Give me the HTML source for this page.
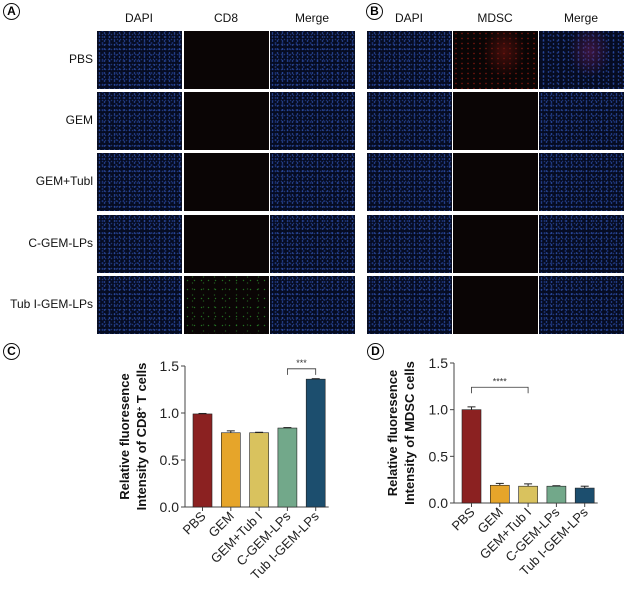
<!DOCTYPE html>
<html><head><meta charset="utf-8">
<style>
body{margin:0;width:626px;height:592px;background:#fff;font-family:"Liberation Sans",Arial,sans-serif;position:relative;overflow:hidden}
.t{position:absolute;font-size:12px;color:#111}
.tile{position:absolute;width:85px;height:58px}
.dapi{background-color:#060c22;background-image:radial-gradient(circle,rgba(45,80,170,.9) 0.6px,transparent 1px),radial-gradient(circle,rgba(30,55,130,.8) 0.7px,transparent 1.2px),radial-gradient(circle,rgba(40,70,150,.7) 0.5px,transparent 1px);background-size:5px 4px,7px 6px,3px 5px;background-position:0 0,2px 3px,1px 1px}
.dark{background:#0a0505}
.lab{position:absolute;width:17px;height:17px;border:1.3px solid #111;border-radius:50%;font-weight:bold;font-size:12px;text-align:center;box-sizing:border-box;line-height:15px}
</style></head><body>
<div class="lab" style="left:3px;top:3px">A</div>
<div class="lab" style="left:366px;top:3px">B</div>
<div class="lab" style="left:3px;top:343px">C</div>
<div class="lab" style="left:367px;top:343px">D</div>
<div id="grid"></div>
<svg id="charts" width="626" height="592" style="position:absolute;left:0;top:0" font-family="Liberation Sans, Arial, sans-serif"></svg>
<script>
const rowsA=["PBS","GEM","GEM+Tubl","C-GEM-LPs","Tub I-GEM-LPs"];
const colsA=["DAPI","CD8","Merge"];
const colsB=["DAPI","MDSC","Merge"];
const colXA=[97,184,270], colXB=[367,453,539], rowY=[31,92,153,215,276];
const g=document.getElementById('grid');
function txt(x,y,s,align,name){const d=document.createElement('div');d.className='t';d.textContent=s;d.style.top=y+'px';
 if(align==='c'){d.style.left=(x-50)+'px';d.style.width='100px';d.style.textAlign='center';}else{d.style.right=(626-x)+'px';}
 
 
 g.appendChild(d);}
colsA.forEach((c,i)=>txt(colXA[i]+42,11,c,'c','col-header-a-'+c.toLowerCase()));
colsB.forEach((c,i)=>txt(colXB[i]+42,11,c,'c','col-header-b-'+c.toLowerCase()));
rowsA.forEach((r,j)=>txt(93,rowY[j]+21,r,'r','row-label'));
function tile(x,y,cls,name,extra){const d=document.createElement('div');d.className='tile '+cls;d.style.left=x+'px';d.style.top=y+'px';if(extra)d.style.cssText+=extra;
 
 
 g.appendChild(d);}
rowY.forEach((y,j)=>{
 tile(colXA[0],y,'dapi','dapi-image-a');
 tile(colXA[1],y,'dark','cd8-image',j==4?'background-image:radial-gradient(circle,rgba(40,140,40,.8) 0.5px,transparent 0.9px),radial-gradient(circle,rgba(40,120,40,.7) 0.5px,transparent 0.9px);background-size:7px 9px,11px 6px;background-position:0 0,3px 4px':'');
 tile(colXA[2],y,'dapi','merge-image-a');
 tile(colXB[0],y,'dapi','dapi-image-b');
 tile(colXB[1],y,'dark','mdsc-image',j==0?'background-image:radial-gradient(ellipse 25% 45% at 60% 35%,rgba(110,20,15,.6),transparent),radial-gradient(circle,rgba(160,30,20,.7) 0.6px,transparent 1px);background-size:auto,6px 5px':'');
 tile(colXB[2],y,'dapi','merge-image-b',j==0?'background-image:radial-gradient(ellipse 25% 45% at 60% 35%,rgba(110,30,90,.5),transparent),radial-gradient(circle,rgba(45,80,170,.9) 0.6px,transparent 1px),radial-gradient(circle,rgba(30,55,130,.8) 0.7px,transparent 1.2px);background-size:auto,5px 4px,7px 6px':'');
});

const cats=["PBS","GEM","GEM+Tub I","C-GEM-LPs","Tub I-GEM-LPs"];
const colors=["#8b2121","#e6a52a","#d9c25e","#72a88a","#1c4e6e"];
const cdValues=[0.99,0.79,0.79,0.84,1.36];
const cdErr=[0.005,0.02,0.005,0.005,0.005];
const mdValues=[1.00,0.19,0.18,0.18,0.16];
const mdErr=[0.03,0.02,0.025,0.005,0.02];
const ticks=[0,0.5,1.0,1.5];
const S=document.getElementById('charts'),NS='http://www.w3.org/2000/svg';
function el(t,a,name,txt){const e=document.createElementNS(NS,t);for(const k in a)e.setAttribute(k,a[k]);
 
 
 if(txt!==undefined)e.textContent=txt;S.appendChild(e);return e;}
function chart(ax,y0,y15,vals,errs,sig,title1,title2,tx,key){
 const sy=v=>y0-(y0-y15)*v/1.5, step=28.3, x0=ax+17.5, bw=19;
 const sx=i=>x0+i*step;
 el('line',{x1:ax,y1:y15,x2:ax,y2:y0,stroke:'#444','stroke-width':1},key+'-y-axis');
 el('line',{x1:ax,y1:y0,x2:sx(4)+13,y2:y0,stroke:'#444','stroke-width':1},key+'-x-axis');
 ticks.forEach(t=>{el('line',{x1:ax-4,y1:sy(t),x2:ax,y2:sy(t),stroke:'#444'},key+'-y-tick');
  el('text',{x:ax-6,y:sy(t)+5,'text-anchor':'end','font-size':14,fill:'#222'},key+'-y-tick-label',t.toFixed(1));});
 vals.forEach((v,i)=>{
  el('rect',{x:sx(i)-bw/2,y:sy(v),width:bw,height:y0-sy(v),fill:colors[i],stroke:'#222','stroke-width':0.6},key+'-bar-'+i);
  el('line',{x1:sx(i),y1:sy(v),x2:sx(i),y2:sy(v+errs[i]),stroke:'#222'},key+'-error-bar');
  el('line',{x1:sx(i)-4,y1:sy(v+errs[i]),x2:sx(i)+4,y2:sy(v+errs[i]),stroke:'#222'},key+'-error-cap');
  el('line',{x1:sx(i),y1:y0,x2:sx(i),y2:y0+4,stroke:'#444'},key+'-x-tick');
  el('text',{x:sx(i)+4,y:y0+10,'text-anchor':'end','font-size':13,fill:'#222',transform:`rotate(-45 ${sx(i)+4} ${y0+10})`},key+'-x-tick-label',cats[i]);
 });
 const [a,b,yv,lab]=sig, yy=sy(yv);
 el('path',{d:`M${sx(a)} ${yy+6}V${yy}H${sx(b)}V${yy+6}`,fill:'none',stroke:'#333','stroke-width':0.8},key+'-significance-bracket');
 el('text',{x:(sx(a)+sx(b))/2,y:yy-3,'text-anchor':'middle','font-size':9,fill:'#333'},key+'-significance-label',lab);
 const cy=(y0+y15)/2;
 el('text',{x:tx,y:cy,'text-anchor':'middle','font-size':13,'font-weight':'bold',fill:'#111',transform:`rotate(-90 ${tx} ${cy})`},key+'-y-title-1',title1);
 const t2=el('text',{x:tx+17,y:cy,'text-anchor':'middle','font-size':13,'font-weight':'bold',fill:'#111',transform:`rotate(-90 ${tx+17} ${cy})`},key+'-y-title-2');
 t2.innerHTML=title2;
}
chart(185,507,366,cdValues,cdErr,[3,4,1.47,'***'],'Relative fluoresence','Intensity of CD8<tspan baseline-shift="super" font-size="8">+</tspan> T cells',129,'c');
chart(454,503,363,mdValues,mdErr,[0,2,1.24,'****'],'Relative fluoresence','Intensity of MDSC cells',397,'d');
</script>
</body></html>
